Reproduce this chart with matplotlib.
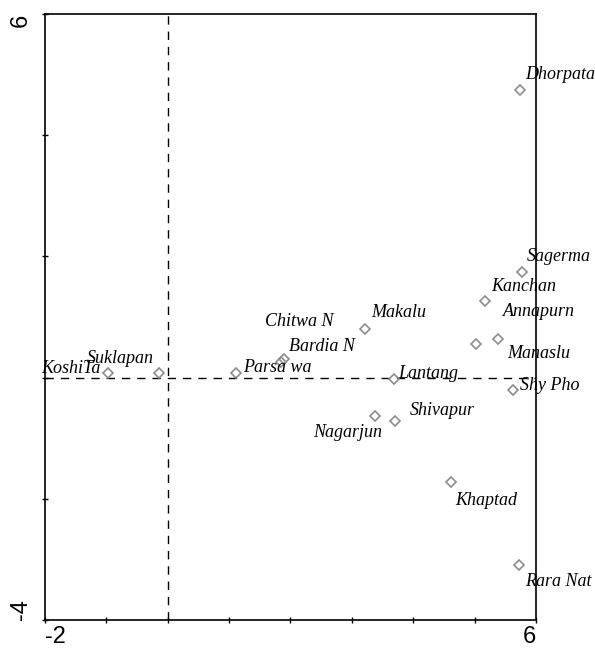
import matplotlib
matplotlib.use("Agg")
import matplotlib.pyplot as plt

# site scores (axis 1, axis 2)
sites = ["Dhorpata", "Sagerma", "Kanchan", "Annapurn", "Manaslu", "Shy Pho",
         "Lantang", "Shivapur", "Nagarjun", "Makalu", "Chitwa N", "Bardia N",
         "Parsa wa", "Suklapan", "KoshiTa", "Khaptad", "Rara Nat"]
ax1 = [5.74, 5.77, 5.17, 5.38, 5.03, 5.62,
       3.68, 3.71, 3.37, 3.22, 1.85, 1.90,
       1.11, -0.14, -0.97, 4.61, 5.73]
ax2 = [4.74, 1.74, 1.26, 0.64, 0.55, -0.20,
       -0.03, -0.72, -0.63, 0.81, 0.26, 0.30,
       0.08, 0.08, 0.08, -1.72, -3.09]

# label offsets in pixels (right, down) from the marker
label_off = [(5, -11), (5, -11), (6, -10), (5, -23), (31, 14), (7, 0),
             (5, -1), (14, -6), (-61, 21), (6, -12), (-16, -36), (5, -8),
             (7, -1), (-72, -10), (-67, 0), (5, 23), (6, 21)]

xlim = (-2, 6)
ylim = (-4, 6)

fig = plt.figure(figsize=(5.95, 6.53), dpi=100)
ax = fig.add_axes([0.0756, 0.0505, 0.8252, 0.9281])

ax.axvline(0, color="black", lw=1, dashes=(6, 5), zorder=1)
ax.axhline(0, color="black", lw=1, dashes=(6, 5), zorder=1)

ax.plot(ax1, ax2, linestyle="none", marker="D", markersize=5.2,
        markerfacecolor="none", markeredgecolor="#8c8c8c", markeredgewidth=1.2,
        zorder=3)

for name, x, y, (dx, dy) in zip(sites, ax1, ax2, label_off):
    ax.annotate(name, (x, y), xytext=(dx, -dy), textcoords="offset pixels",
                ha="left", va="baseline", fontsize=13, style="italic",
                family="Liberation Serif", annotation_clip=False, zorder=4)

ax.set_xlim(*xlim)
ax.set_ylim(*ylim)

ax.set_xticks(range(-2, 7))
ax.set_xticklabels(["-2", "", "", "", "", "", "", "", "6"])
ax.set_yticks(range(-4, 7, 2))
ax.set_yticklabels(["-4", "", "", "", "", "6"], rotation=90)

ax.tick_params(direction="inout", length=5, width=1, labelsize=17)
ax.tick_params(axis="y", pad=7)
ax.tick_params(axis="x", pad=2)
for lab in ax.get_xticklabels() + ax.get_yticklabels():
    lab.set_family("Liberation Sans")
xl = ax.get_xticklabels()
xl[0].set_ha("left")
xl[-1].set_ha("right")
yl = ax.get_yticklabels()
yl[0].set_va("bottom")
yl[-1].set_va("top")

for s in ax.spines.values():
    s.set_linewidth(1.2)

fig.savefig("out.png", dpi=100)
